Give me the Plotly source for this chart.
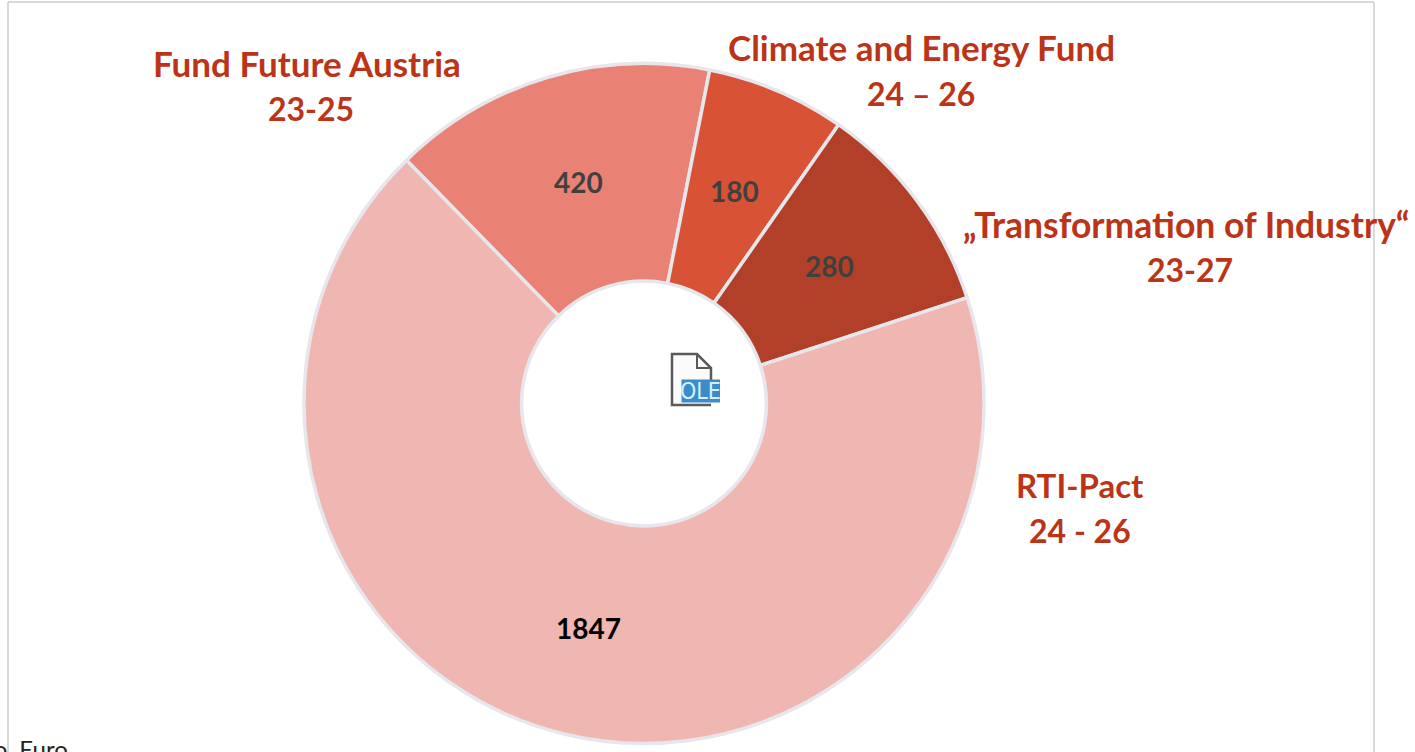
import math
import plotly.graph_objects as go

categories = ["Fund Future Austria", "Climate and Energy Fund", "„Transformation of Industry“", "RTI-Pact"]
periods = ["23-25", "24 – 26", "23-27", "24 - 26"]
values = [420, 180, 280, 1847]
slice_colors = ["#E98274", "#D85236", "#B24029", "#F0B6B1"]
value_colors = ["#404040", "#404040", "#404040", "#000000"]
name_x = [307, 921, 1186, 1080]
name_y = [63, 47, 224, 485]
name_size = [35, 35, 35.5, 33]
period_x = [311, 921, 1190, 1080]
period_y = [109, 93, 269, 530]
W, H = 1415, 752
FONT = "Lato"
RED = "#BC3418"
CX, CY, R, HOLE, ROT = 644, 403.5, 340, 0.36, -44.3


def px(x):
    return x / W


def py(y):
    return 1 - y / H


fig = go.Figure(go.Pie(
    labels=categories, values=values, sort=False, direction="clockwise",
    rotation=ROT, hole=HOLE,
    marker=dict(colors=slice_colors, line=dict(color="#E6E6EC", width=3.5)),
    textinfo="none",
    domain=dict(x=[px(CX - R), px(CX + R)], y=[py(CY + R), py(CY - R)]),
    showlegend=False,
))

ann = []
for c, x, y, s in zip(categories, name_x, name_y, name_size):
    ann.append(dict(x=px(x), y=py(y), xref="paper", yref="paper", showarrow=False,
                    text=f"<b>{c}</b>", xanchor="center", yanchor="middle",
                    font=dict(family=FONT, size=s, color=RED)))
for p, x, y in zip(periods, period_x, period_y):
    ann.append(dict(x=px(x), y=py(y), xref="paper", yref="paper", showarrow=False,
                    text=f"<b>{p}</b>", xanchor="center", yanchor="middle",
                    font=dict(family=FONT, size=32, color=RED)))

# value labels at the middle of each ring segment
total = sum(values)
ring_r = R * (1 + HOLE) / 2
start = ROT
for v, col in zip(values, value_colors):
    mid = math.radians(start + 360 * v / total / 2)
    start += 360 * v / total
    ann.append(dict(x=px(CX + ring_r * math.sin(mid)), y=py(CY - ring_r * math.cos(mid)),
                    xref="paper", yref="paper", showarrow=False, text=f"<b>{v}</b>",
                    xanchor="center", yanchor="middle",
                    font=dict(family=FONT, size=28, color=col)))

ann.append(dict(x=px(70), y=py(748), xref="paper", yref="paper", showarrow=False,
                text="Mio. Euro", xanchor="right", yanchor="middle",
                font=dict(family=FONT, size=24, color="#222222")))
ann.append(dict(x=px(700.5), y=py(391), xref="paper", yref="paper", showarrow=False,
                text="OLE", xanchor="center", yanchor="middle",
                font=dict(family="DejaVu Sans Condensed", size=23, color="#D8F0FA")))

shapes = [
    dict(type="path", xref="paper", yref="paper",
         path=f"M {px(711)} {py(405)} L {px(672)} {py(405)} L {px(672)} {py(354)} L {px(697)} {py(354)} L {px(711)} {py(368)} L {px(711)} {py(381)}",
         line=dict(color="#5A5A5A", width=2.5), fillcolor="#FAFAFA"),
    dict(type="path", xref="paper", yref="paper",
         path=f"M {px(697)} {py(354)} L {px(697)} {py(368)} L {px(711)} {py(368)}",
         line=dict(color="#5A5A5A", width=2)),
    dict(type="rect", xref="paper", yref="paper", x0=px(681.5), x1=px(720), y0=py(379.5), y1=py(402.5),
         fillcolor="#3A8CCB", line=dict(width=0)),
    dict(type="line", xref="paper", yref="paper", x0=px(8), x1=px(1374), y0=py(2), y1=py(2),
         line=dict(color="#CCCCCC", width=1.5)),
    dict(type="line", xref="paper", yref="paper", x0=px(8), x1=px(8), y0=py(2), y1=py(752),
         line=dict(color="#CCCCCC", width=1.5)),
    dict(type="line", xref="paper", yref="paper", x0=px(1374), x1=px(1374), y0=py(2), y1=py(752),
         line=dict(color="#CCCCCC", width=1.5)),
]

fig.update_layout(width=W, height=H, margin=dict(l=0, r=0, t=0, b=0),
                  paper_bgcolor="white", annotations=ann, shapes=shapes)
fig.write_html("out.html", config={"displayModeBar": False},
               post_script="document.body.style.margin='0';document.body.style.overflow='hidden';")
